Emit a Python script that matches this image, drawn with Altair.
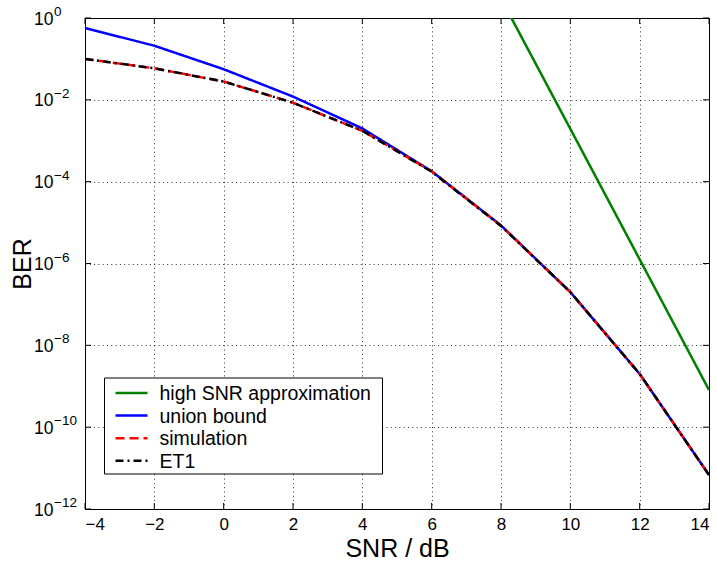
import altair as alt
import pandas as pd

# ---- data ----
snr = [-4, -2, 0, 2, 4, 6, 8, 10, 12, 14]
union_bound = [0.57, 0.21, 0.056, 0.012, 2.0e-3, 1.8e-4, 8.5e-6, 2.0e-7, 2.0e-9, 6.8e-12]
simulation = [0.10, 0.059, 0.028, 8.5e-3, 1.75e-3, 1.8e-4, 8.5e-6, 2.0e-7, 2.0e-9, 6.8e-12]
et1 = [0.10, 0.059, 0.028, 8.5e-3, 1.75e-3, 1.75e-4, 8.3e-6, 2.0e-7, 2.0e-9, 6.8e-12]
snr_high = [8, 10, 12, 14]
high_snr = [3.0, 1.95e-3, 1.26e-6, 8.1e-10]

series_names = ["high SNR approximation", "union bound", "simulation", "ET1"]
series_colors = ["#008000", "#0000ff", "#ff0000", "#000000"]
series_dashes = [[1, 0], [1, 0], [9, 5], [8, 4, 2, 4]]

x_ticks = [-4, -2, 0, 2, 4, 6, 8, 10, 12, 14]
y_exponents = [0, -2, -4, -6, -8, -10, -12]

# ---- layout ----
W, H = 624, 491
FONT = "Liberation Sans"

xscale = alt.Scale(domain=[-4, 14], nice=False, zero=False)
yscale = alt.Scale(type="log", domain=[1e-12, 1], nice=False)
y_tick_vals = [10.0 ** e for e in y_exponents]

x_axis = alt.Axis(values=x_ticks, title="SNR / dB", grid=True, ticks=False,
                  gridDash=[1, 3.3], gridColor="#000000", gridOpacity=0.8,
                  domain=False, labelFontSize=17, labelPadding=7, labelColor="#000",
                  labelFont=FONT, titleFont=FONT, titleFontSize=25, titleFontWeight="normal",
                  titleColor="#000", titleX=W / 2, titleY=39, titleBaseline="middle",
                  titleAlign="center")
y_axis = alt.Axis(values=y_tick_vals, title="BER", grid=True, ticks=False, labels=False,
                  gridDash=[1, 3.3], gridColor="#000000", gridOpacity=0.8, domain=False,
                  titleFont=FONT, titleFontSize=25, titleFontWeight="normal", titleColor="#000",
                  titleX=-63, titleY=H / 2, titleAngle=270, titleAlign="center",
                  titleBaseline="middle")

XENC = lambda: alt.X("snr:Q", scale=xscale, axis=x_axis)
YENC = lambda: alt.Y("ber:Q", scale=yscale, axis=y_axis)


def series_df(xs, ys, name):
    return pd.DataFrame({"snr": xs, "ber": ys, "series": name})


frames = [series_df(snr_high, high_snr, series_names[0]),
          series_df(snr, union_bound, series_names[1]),
          series_df(snr, simulation, series_names[2]),
          series_df(snr, et1, series_names[3])]

layers = []
for i, df in enumerate(frames):
    layers.append(
        alt.Chart(df).mark_line(color=series_colors[i], strokeWidth=2.5,
                                strokeDash=series_dashes[i], clip=True).encode(x=XENC(), y=YENC())
    )

# inside ticks (MATLAB style box ticks)
xt = pd.DataFrame({"snr": x_ticks})
yt = pd.DataFrame({"ber": y_tick_vals,
                   "base": ["10"] * len(y_exponents),
                   "exp": [("\u2212" + str(-e)) if e < 0 else str(e) for e in y_exponents]})
tick_len = 6
layers.append(alt.Chart(xt).mark_rule(color="#000", strokeWidth=1).encode(
    x=XENC(), y=alt.value(H), y2=alt.value(H - tick_len)))
layers.append(alt.Chart(xt).mark_rule(color="#000", strokeWidth=1).encode(
    x=XENC(), y=alt.value(0), y2=alt.value(tick_len)))
layers.append(alt.Chart(yt).mark_rule(color="#000", strokeWidth=1).encode(
    y=YENC(), x=alt.value(0), x2=alt.value(tick_len)))
layers.append(alt.Chart(yt).mark_rule(color="#000", strokeWidth=1).encode(
    y=YENC(), x=alt.value(W - tick_len), x2=alt.value(W)))

# y tick labels 10^n with superscript exponent
layers.append(alt.Chart(yt).mark_text(align="right", baseline="middle", fontSize=17.5,
                                      font=FONT, dy=1.5, color="#000").encode(
    y=YENC(), x=alt.value(-31.5), text="base:N"))
layers.append(alt.Chart(yt).mark_text(align="left", baseline="middle", fontSize=13.5,
                                      font=FONT, dy=-6, color="#000").encode(
    y=YENC(), x=alt.value(-31), text="exp:N"))

# legend (drawn manually, MATLAB style box)
leg = pd.DataFrame({"name": series_names})
box_x0, box_x1, box_y0, box_y1 = 19.5, 297.5, 360, 456
layers.append(alt.Chart(leg.head(1)).mark_rect(fill="white", stroke="black", strokeWidth=1).encode(
    x=alt.value(box_x0), x2=alt.value(box_x1), y=alt.value(box_y0), y2=alt.value(box_y1)))
row_y0, row_step = 375, 22.6
for i, name in enumerate(series_names):
    ry = row_y0 + i * row_step
    one = leg.iloc[[i]]
    layers.append(alt.Chart(one).mark_rule(color=series_colors[i], strokeWidth=2.5,
                                           strokeDash=series_dashes[i]).encode(
        x=alt.value(30.5), x2=alt.value(62.5), y=alt.value(ry)))
    layers.append(alt.Chart(one).mark_text(align="left", baseline="middle", fontSize=19.5,
                                           font=FONT, color="#000").encode(
        x=alt.value(74.5), y=alt.value(ry + 1), text="name:N"))

chart = alt.layer(*layers).properties(
    width=W, height=H,
    autosize=alt.AutoSizeParams(type="none"),
    padding={"left": 85, "top": 18, "right": 8, "bottom": 53},
    background="white",
).configure(font=FONT).configure_view(stroke="#000", strokeWidth=1)

chart.save("out.html", embed_options={"renderer": "svg", "actions": False})
